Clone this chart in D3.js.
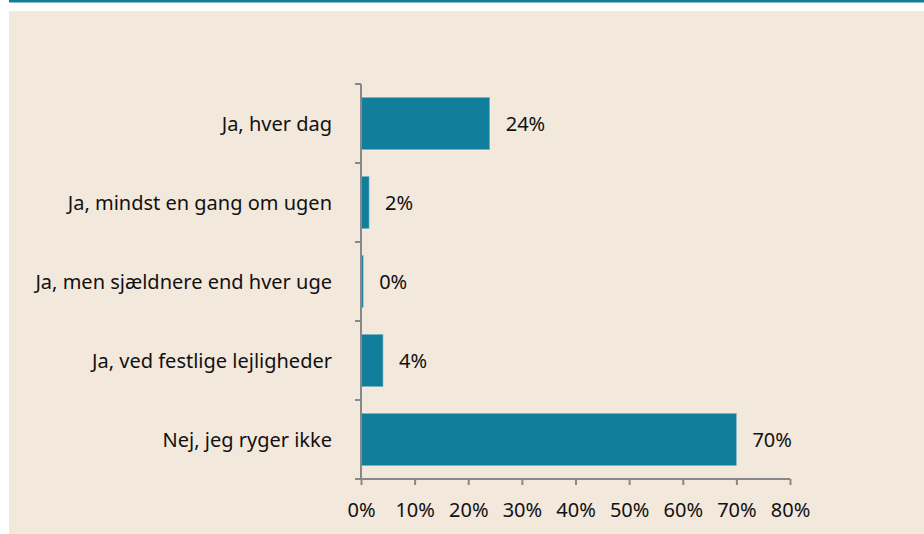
<!DOCTYPE html>
<html><head><meta charset="utf-8">
<script src="https://cdn.jsdelivr.net/npm/d3@7"></script>
<style>body{margin:0;background:#fff;}svg{display:block;font-family:"Noto Sans",sans-serif;}</style>
</head><body><svg id="c" width="924" height="534"></svg>
<script>
const categories = ["Ja, hver dag","Ja, mindst en gang om ugen","Ja, men sjældnere end hver uge","Ja, ved festlige lejligheder","Nej, jeg ryger ikke"];
const values = [24, 1.5, 0.4, 4.1, 70];
const valueLabels = ["24%","2%","0%","4%","70%"];
const xTicks = [0,10,20,30,40,50,60,70,80];

const svg = d3.select("#c");
svg.append("rect").attr("x",0).attr("y",0).attr("width",924).attr("height",534).attr("fill","#ffffff");
svg.append("rect").attr("x",9).attr("y",0).attr("width",915).attr("height",2.5).attr("fill","#127d99");
svg.append("rect").attr("x",9).attr("y",11).attr("width",915).attr("height",523).attr("fill","#f3e8dc");

const x = d3.scaleLinear().domain([0,80]).range([361,790]);
const y = d3.scaleBand().domain(categories).range([84,479]).paddingInner(0.34).paddingOuter(0.17);
const FS = 20;

const g = svg.append("g");
g.selectAll("rect.bar").data(values).join("rect").attr("class","bar")
  .attr("x",x(0)).attr("y",(d,i)=>y(categories[i]))
  .attr("width",d=>x(d)-x(0)).attr("height",y.bandwidth())
  .attr("fill","#117e9b").attr("stroke","#7fb7c6").attr("stroke-width",0.6);

g.selectAll("text.vl").data(values).join("text").attr("class","vl")
  .attr("x",d=>x(d)+16).attr("y",(d,i)=>y(categories[i])+y.bandwidth()/2)
  .attr("dy","0.35em").attr("font-size",FS).attr("fill","#111")
  .text((d,i)=>valueLabels[i]);

const yAxisG = svg.append("g");
yAxisG.append("line").attr("x1",361).attr("x2",361).attr("y1",84).attr("y2",479).attr("stroke","#888").attr("stroke-width",2);
const step = (479-84)/categories.length;
yAxisG.selectAll("line.t").data(categories).join("line").attr("class","t")
  .attr("x1",355).attr("x2",361).attr("y1",(d,i)=>84+i*step).attr("y2",(d,i)=>84+i*step).attr("stroke","#888").attr("stroke-width",2);
yAxisG.selectAll("text").data(categories).join("text")
  .attr("x",332).attr("y",d=>y(d)+y.bandwidth()/2).attr("dy","0.35em")
  .attr("text-anchor","end").attr("font-size",FS).attr("fill","#111").text(d=>d);

const xAxis = d3.axisBottom(x).tickValues(xTicks).tickFormat(d=>d+"%").tickSize(6).tickSizeOuter(0).tickPadding(18);
const xg = svg.append("g").attr("transform","translate(0,479)").call(xAxis);
xg.select(".domain").attr("stroke","#888").attr("stroke-width",2).attr("d","M355,0H790");
xg.selectAll(".tick line").attr("stroke","#888").attr("stroke-width",2);
xg.selectAll(".tick text").attr("font-size",FS).attr("fill","#111").attr("font-family","Noto Sans");
</script></body></html>
